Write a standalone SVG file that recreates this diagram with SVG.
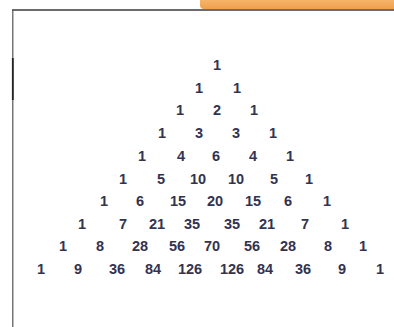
<svg xmlns="http://www.w3.org/2000/svg" width="394" height="327" viewBox="0 0 394 327">
<defs>
<linearGradient id="og" x1="0" y1="0" x2="0" y2="1">
<stop offset="0" stop-color="#f6b46a"/>
<stop offset="1" stop-color="#f0a04c"/>
</linearGradient>
<style>
text{font-family:"Liberation Sans",Arial,sans-serif;font-weight:bold;font-size:14.5px;fill:#33334f;text-anchor:middle}
</style>
</defs>
<rect width="394" height="327" fill="#ffffff"/>
<g id="frame">
<path d="M200,0 H394 V9 H204 Q200,9 200,5 Z" fill="url(#og)"/>
<line x1="12" y1="10" x2="394" y2="10" stroke="#3a3a3a" stroke-width="1.6"/>
<line x1="12.8" y1="10" x2="12.8" y2="327" stroke="#555" stroke-width="1.2"/>
<line x1="12.8" y1="58" x2="12.8" y2="100" stroke="#222" stroke-width="1.8"/>
</g>
<g id="row1"><text x="217" y="70">1</text></g>
<g id="row2"><text x="199" y="92.7">1</text><text x="237" y="92.7">1</text></g>
<g id="row3"><text x="180" y="115.4">1</text><text x="217" y="115.4">2</text><text x="254" y="115.4">1</text></g>
<g id="row4"><text x="162" y="138">1</text><text x="199" y="138">3</text><text x="236" y="138">3</text><text x="273" y="138">1</text></g>
<g id="row5"><text x="142" y="160.8">1</text><text x="181" y="160.8">4</text><text x="216" y="160.8">6</text><text x="253" y="160.8">4</text><text x="290" y="160.8">1</text></g>
<g id="row6"><text x="123" y="183.5">1</text><text x="161" y="183.5">5</text><text x="198" y="183.5">10</text><text x="236" y="183.5">10</text><text x="274" y="183.5">5</text><text x="309" y="183.5">1</text></g>
<g id="row7"><text x="104" y="206">1</text><text x="140" y="206">6</text><text x="178" y="206">15</text><text x="215" y="206">20</text><text x="253" y="206">15</text><text x="288" y="206">6</text><text x="327" y="206">1</text></g>
<g id="row8"><text x="82" y="229">1</text><text x="123" y="229">7</text><text x="157" y="229">21</text><text x="192" y="229">35</text><text x="232" y="229">35</text><text x="267" y="229">21</text><text x="305" y="229">7</text><text x="345" y="229">1</text></g>
<g id="row9"><text x="63" y="251">1</text><text x="100" y="251">8</text><text x="140" y="251">28</text><text x="177" y="251">56</text><text x="212" y="251">70</text><text x="252" y="251">56</text><text x="288" y="251">28</text><text x="328" y="251">8</text><text x="363" y="251">1</text></g>
<g id="row10"><text x="41" y="274">1</text><text x="78" y="274">9</text><text x="117" y="274">36</text><text x="153" y="274">84</text><text x="190" y="274">126</text><text x="232" y="274">126</text><text x="265" y="274">84</text><text x="303" y="274">36</text><text x="342" y="274">9</text><text x="380" y="274">1</text></g>
</svg>
